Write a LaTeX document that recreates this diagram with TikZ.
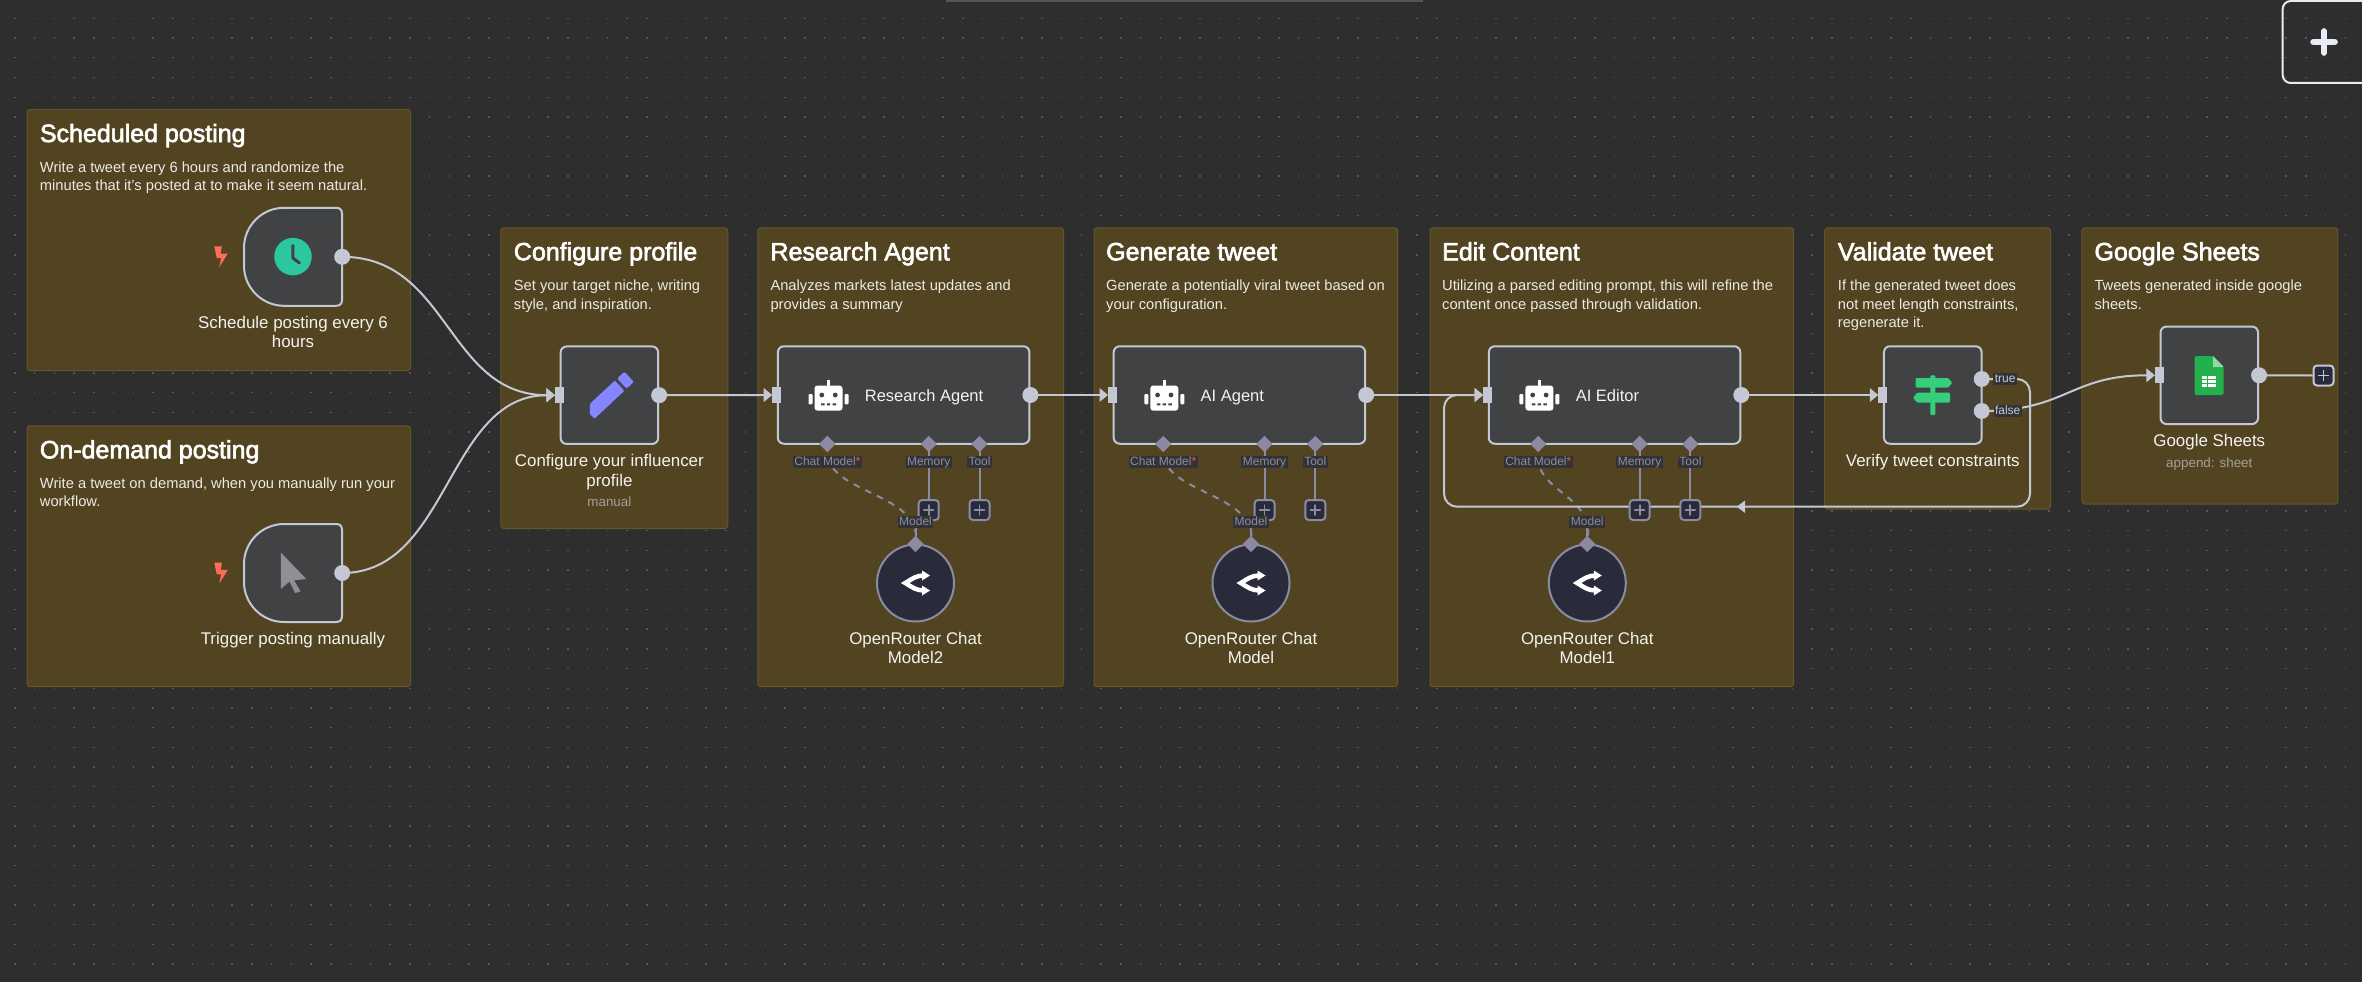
\documentclass[tikz,border=0pt]{standalone}
\usepackage{fontspec}
\setmainfont{Liberation Sans}
\newfontfamily\ttlfont[FakeBold=2.5]{Liberation Sans}
\usetikzlibrary{arrows.meta,shapes.geometric}
\definecolor{bgcol}{HTML}{2E2E2E}
\definecolor{dotcol}{HTML}{575757}
\definecolor{stickyfill}{HTML}{524421}
\definecolor{stickyline}{HTML}{65562A}
\definecolor{nodefill}{HTML}{414244}
\definecolor{wirecol}{HTML}{C4C8D4}
\definecolor{portcol}{HTML}{8A8BA3}
\definecolor{lblbg}{HTML}{333336}
\definecolor{subcol}{HTML}{A3A097}
\definecolor{txtcol}{HTML}{F3F3F1}
\definecolor{desccol}{HTML}{ECEAE4}
\definecolor{circfill}{HTML}{2A2B3A}
\definecolor{signgreen}{HTML}{35CF7C}
\definecolor{sheetgreen}{HTML}{23B14D}
\definecolor{boltcol}{HTML}{FF6D5A}
\definecolor{clockcol}{HTML}{2CC79F}
\definecolor{cursorcol}{HTML}{8F9094}
\definecolor{pencilcol}{HTML}{8585FF}
\definecolor{btncol}{HTML}{E8EAF5}
\definecolor{barcol}{HTML}{555555}
\pgfdeclarelayer{bg}
\pgfdeclarelayer{conn}
\pgfsetlayers{bg,conn,main}
\tikzset{
  stickybox/.style={draw=stickyline,line width=1pt,fill=stickyfill,rounded corners=3pt,inner sep=0pt,anchor=north west},
  stickytitle/.style={anchor=base west,inner sep=0pt,text=white,font=\ttlfont\fontsize{25}{30}\selectfont},
  stickytext/.style={anchor=base west,inner sep=0pt,text=desccol,font=\fontsize{14.7}{18}\selectfont},
  nodelabel/.style={anchor=base,inner sep=0pt,text=txtcol,font=\fontsize{16.9}{20}\selectfont},
  sublabel/.style={anchor=base,inner sep=0pt,text=subcol,font=\fontsize{13.4}{16}\selectfont},
  workbox/.style={draw=wirecol,line width=2pt,fill=nodefill,rounded corners=6pt,inner sep=0pt},
  inport/.style={fill=wirecol,inner sep=0pt,minimum width=9pt,minimum height=16pt},
  outport/.style={circle,fill=wirecol,inner sep=0pt,minimum size=16pt},
  wire/.style={draw=wirecol,line width=2pt,-{Triangle[length=8.5pt,width=13.5pt]}},
  plainwire/.style={draw=wirecol,line width=2pt},
  subwire/.style={draw=portcol,line width=2pt},
  dashwire/.style={draw=portcol,line width=2pt,dash pattern=on 6.5pt off 6.5pt},
  subdiamond/.style={diamond,fill=portcol,inner sep=0pt,minimum width=16.5pt,minimum height=16.5pt},
  addbox/.style={draw=portcol,line width=2pt,fill=circfill,rounded corners=3.5pt,inner sep=0pt,minimum size=20pt},
  addboxlight/.style={draw=wirecol,line width=2pt,fill=circfill,rounded corners=3.5pt,inner sep=0pt,minimum size=20pt},
  portlabel/.style={fill=lblbg,inner xsep=1.5pt,inner ysep=0pt,text=portcol,text height=9pt,text depth=3pt,font=\fontsize{12}{12}\selectfont},
  truelabel/.style={portlabel,text=wirecol},
  modelcircle/.style={circle,draw=portcol,line width=2pt,fill=circfill,inner sep=0pt,minimum size=77pt},
}
\newcommand{\plusmark}[2]{\draw[#2,line width=1.9pt,line cap=round] ([xshift=-4.8pt]#1.center) -- ([xshift=4.8pt]#1.center) ([yshift=-4.8pt]#1.center) -- ([yshift=4.8pt]#1.center);}
\newcommand{\stickyboard}[5]{%
  \pgfmathsetmacro\stw{#4-#2}\pgfmathsetmacro\sth{#5-#3}%
  \begin{pgfonlayer}{bg}
  \node[stickybox,minimum width=\stw pt,minimum height=\sth pt] (#1) at (#2,#3) {};
  \end{pgfonlayer}}
\newcommand{\stickyhead}[4]{\node[stickytitle] (#1) at (#2,#3) {#4};}
\newcommand{\stickyrow}[4]{\node[stickytext] (#1) at (#2,#3) {#4};}
\newcommand{\roboticon}[2]{%
  \begin{scope}[shift={(#1,#2)}]
    \fill[white] (-1.3,-15) rectangle (1.3,-8);
    \fill[white,rounded corners=3pt] (-14,-9.5) rectangle (14,15.7);
    \fill[white,rounded corners=1pt] (-20,-1) rectangle (-16,9.3);
    \fill[white,rounded corners=1pt] (16,-1) rectangle (20,9.3);
    \fill[nodefill] (-6.7,0) circle (2.4) (6.7,0) circle (2.4);
    \fill[nodefill] (-7.5,8.3) rectangle (-4,10.3) (-1.7,8.3) rectangle (1.7,10.3) (4,8.3) rectangle (7.5,10.3);
  \end{scope}}
\newcommand{\routericon}[2]{%
  \begin{scope}[shift={(#1,#2)}]
    \draw[white,line width=4.5pt] (8,-7.5) .. controls (1,-7.5) and (-4,-4) .. (-10,0) .. controls (-4,4) and (1,7.5) .. (8,7.5);
    \fill[white] (-14.5,0) -- (-9,-3) -- (-9,3) -- cycle;
    \fill[white] (14.5,-7.5) -- (6.5,-12.5) -- (6.5,-2.5) -- cycle;
    \fill[white] (14.5,7.5) -- (6.5,2.5) -- (6.5,12.5) -- cycle;
  \end{scope}}
\newcommand{\boltmark}[2]{\fill[boltcol,shift={(#1,#2)}] (-6.5,-10.2) -- (1,-10.2) -- (0,-3) -- (7,-3) -- (-1.5,10.5) -- (0.3,1.5) -- (-4,1.5) -- cycle;}
\newcommand{\triggerbox}[3]{%
  \node[inner sep=0pt,minimum size=98pt] (#1) at ({#2+49},{#3+49}) {};
  \draw[draw=wirecol,line width=2pt,fill=nodefill,shift={(#2,#3)}] (40,0) -- (92,0) .. controls (96,0) and (98,2) .. (98,6) -- (98,92) .. controls (98,96) and (96,98) .. (92,98) -- (40,98) .. controls (18,98) and (0,80) .. (0,58) -- (0,40) .. controls (0,18) and (18,0) .. (40,0) -- cycle;
  \node[outport] (#1out) at (#1.east) {};}
% #1 prefix, #2 left x, #3 model x, #4 agent text, #5 first label line, #6 second label line
\newcommand{\agentgroup}[6]{%
  \pgfmathsetmacro\agc{#2+125.75}%
  \node[workbox,minimum width=251.5pt,minimum height=97.5pt] (#1node) at (\agc,395) {};
  \node[inport] (#1in) at (#1node.west) {};
  \node[outport] (#1out) at (#1node.east) {};
  \roboticon{#2+50.6}{395}
  \node[anchor=base west,inner sep=0pt,text=txtcol,font=\fontsize{16.5}{20}\selectfont] (#1text) at ({#2+86.8},401) {#4};
  \node[modelcircle] (#1circle) at (#3,583) {};
  \routericon{#3}{583}
  \begin{pgfonlayer}{conn}
    \coordinate (#1chatc) at ({#2+49.5},444);
    \coordinate (#1memc) at ({#2+150.8},444);
    \coordinate (#1toolc) at ({#2+201.6},444);
    \coordinate (#1modelc) at (#3,544);
    \draw[subwire] (#1memc) -- ({#2+150.8},510);
    \draw[subwire] (#1toolc) -- ({#2+201.6},510);
    \draw[dashwire] (#1chatc) .. controls +(-10.5,51) and +(9.5,-54) .. (#1modelc);
    \draw[subwire] (#3,528) -- (#1modelc);
  \end{pgfonlayer}
  \node[subdiamond] (#1chat) at (#1chatc) {};
  \node[subdiamond] (#1mem) at (#1memc) {};
  \node[subdiamond] (#1tool) at (#1toolc) {};
  \node[subdiamond] (#1model) at (#1modelc) {};
  \node[addbox] (#1memadd) at ({#2+150.8},510) {};
  \node[addbox] (#1tooladd) at ({#2+201.6},510) {};
  \plusmark{#1memadd}{portcol}
  \plusmark{#1tooladd}{portcol}
  \node[portlabel] (#1chatlbl) at ({#2+49.5},462) {Chat Model\textcolor{red!70!white}{*}};
  \node[portlabel] (#1memlbl) at ({#2+150.8},462) {Memory};
  \node[portlabel] (#1toollbl) at ({#2+201.6},462) {Tool};
  \node[portlabel] (#1modellbl) at (#3,522) {Model};
  \node[nodelabel] (#1lab) at (#3,644) {#5};
  \node[nodelabel] (#1labb) at (#3,663) {#6};}
\begin{document}
\begin{tikzpicture}[x=1pt,y=-1pt]
\useasboundingbox (0,0) rectangle (2362,982);
\begin{pgfonlayer}{bg}
  \fill[bgcol] (0,0) rectangle (2362,982);
  \foreach \i in {0,...,119}{\foreach \j in {0,...,49}{%
    \fill[dotcol] ({14.15+19.75*\i},{17.7+19.7*\j}) rectangle +(1.4,1.4);}}
  \fill[barcol] (946,0) rectangle (1423,2);
\end{pgfonlayer}

% sticky notes
\stickyboard{noteA}{26.5}{109}{410}{370}
\stickyboard{noteB}{26.5}{425.3}{410}{686.2}
\stickyboard{noteC}{500.3}{227.3}{727.3}{528}
\stickyboard{noteD}{757.3}{227.3}{1063}{686.2}
\stickyboard{noteE}{1093.5}{227.3}{1397.2}{686.2}
\stickyboard{noteF}{1429.5}{227.3}{1793.2}{686.2}
\stickyboard{noteG}{1824.2}{227.3}{2050}{508.5}
\stickyboard{noteH}{2081.4}{227.3}{2337.3}{503.5}

\stickyhead{ta}{39.7}{142}{Scheduled posting}
\stickyrow{ta1}{39.7}{172}{Write a tweet every 6 hours and randomize the}
\stickyrow{ta2}{39.7}{190.4}{minutes that it’s posted at to make it seem natural.}
\stickyhead{tb}{39.7}{458.3}{On-demand posting}
\stickyrow{tb1}{39.7}{488.3}{Write a tweet on demand, when you manually run your}
\stickyrow{tb2}{39.7}{506.7}{workflow.}
\stickyhead{tc}{513.7}{260.3}{Configure profile}
\stickyrow{tc1}{513.7}{290.7}{Set your target niche, writing}
\stickyrow{tc2}{513.7}{309.3}{style, and inspiration.}
\stickyhead{td}{770.3}{260.3}{Research Agent}
\stickyrow{td1}{770.3}{290.7}{Analyzes markets latest updates and}
\stickyrow{td2}{770.3}{309.3}{provides a summary}
\stickyhead{te}{1106}{260.3}{Generate tweet}
\stickyrow{te1}{1106}{290.7}{Generate a potentially viral tweet based on}
\stickyrow{te2}{1106}{309.3}{your configuration.}
\stickyhead{tf}{1442}{260.3}{Edit Content}
\stickyrow{tf1}{1442}{290.7}{Utilizing a parsed editing prompt, this will refine the}
\stickyrow{tf2}{1442}{309.3}{content once passed through validation.}
\stickyhead{tg}{1837.7}{260.3}{Validate tweet}
\stickyrow{tg1}{1837.7}{290.7}{If the generated tweet does}
\stickyrow{tg2}{1837.7}{309.3}{not meet length constraints,}
\stickyrow{tg3}{1837.7}{327.6}{regenerate it.}
\stickyhead{th}{2094.3}{260.3}{Google Sheets}
\stickyrow{th1}{2094.3}{290.7}{Tweets generated inside google}
\stickyrow{th2}{2094.3}{309.3}{sheets.}

% triggers
\triggerbox{sched}{244}{207.8}
\boltmark{220.8}{256.6}
\node[circle,fill=clockcol,inner sep=0pt,minimum size=37.5pt] (clockface) at (293,256.6) {};
\draw[nodefill,line width=3pt,line cap=round,line join=round] (292.8,245.5) -- (292.8,258) -- (299.5,263);
\node[nodelabel] (schedlab) at (293,328.4) {Schedule posting every 6};
\node[nodelabel] (schedlabb) at (293,347.4) {hours};

\triggerbox{manu}{244}{524}
\boltmark{220.8}{572.9}
\fill[cursorcol,line join=round] (280.9,552.6) -- (306.2,579) -- (294,580.3) -- (300.5,591.4) -- (295.2,593) -- (289.5,581.5) -- (280.9,589) -- cycle;
\node[nodelabel] (manulab) at (293,644.4) {Trigger posting manually};

% profile node
\node[workbox,minimum width=97.5pt,minimum height=97.5pt] (cfg) at (609.4,395.2) {};
\node[inport] (cfgin) at (cfg.west) {};
\node[outport] (cfgout) at (cfg.east) {};
\begin{scope}[shift={(609.4,395.2)},rotate=43]
  \fill[pencilcol,rounded corners=1pt] (-27,0) -- (-27,7) -- (-20,7) -- (14,7) -- (14,-7) -- (-20,-7) -- cycle;
  \fill[pencilcol,rounded corners=2pt] (17,-7) rectangle (27,7);
\end{scope}
\node[nodelabel] (cfglab) at (609.4,466.4) {Configure your influencer};
\node[nodelabel] (cfglabb) at (609.4,486) {profile};
\node[sublabel] (cfgsub) at (609.4,506) {manual};

% agents
\agentgroup{res}{777.9}{915.5}{Research Agent}{OpenRouter Chat}{Model2}
\agentgroup{gen}{1113.7}{1251}{AI Agent}{OpenRouter Chat}{Model}
\agentgroup{edi}{1488.8}{1587.3}{AI Editor}{OpenRouter Chat}{Model1}

% validation
\node[workbox,minimum width=97.7pt,minimum height=97.5pt] (ver) at (1932.8,395) {};
\node[inport] (verin) at (ver.west) {};
\node[outport] (vertrue) at (1981.7,379) {};
\node[outport] (verfalse) at (1981.7,411) {};
\fill[signgreen,rounded corners=1pt] (1930.3,375.3) rectangle (1935.3,380);
\fill[signgreen,rounded corners=1pt] (1930.3,386) rectangle (1935.3,394);
\fill[signgreen,rounded corners=1pt] (1930.3,402) rectangle (1935.3,415);
\fill[signgreen,rounded corners=1pt] (1915.7,378) -- (1948,378) -- (1952.3,382.8) -- (1948,387.7) -- (1915.7,387.7) -- cycle;
\fill[signgreen,rounded corners=1pt] (1917.3,392.7) -- (1950,392.7) -- (1950,402.7) -- (1917.3,402.7) -- (1913,397.7) -- cycle;
\node[nodelabel] (verlab) at (1932.8,466) {Verify tweet constraints};
\node[truelabel] (truelbl) at (2005.2,379) {true};
\node[truelabel] (falselbl) at (2007.7,411) {false};

% sheets
\node[workbox,minimum width=97.5pt,minimum height=97.5pt] (sheet) at (2209.3,375.3) {};
\node[inport] (sheetin) at (sheet.west) {};
\node[outport] (sheetout) at (sheet.east) {};
\node[addboxlight] (sheetadd) at (2323.5,375.5) {};
\plusmark{sheetadd}{wirecol}
\fill[sheetgreen,rounded corners=1.5pt] (2194.6,356) -- (2213,356) -- (2223.7,367) -- (2223.7,395) -- (2194.6,395) -- cycle;
\fill[sheetgreen!50!white] (2213,356) -- (2223.7,367) -- (2213,367) -- cycle;
\fill[white] (2202,376) rectangle (2215.8,386.7);
\draw[sheetgreen,line width=1pt] (2202,379.6) -- (2215.8,379.6) (2202,383.2) -- (2215.8,383.2) (2207.5,376) -- (2207.5,386.7);
\node[nodelabel] (sheetlab) at (2209.3,446) {Google Sheets};
\node[sublabel] (sheetsub) at (2209.3,467.3) {append: sheet};

% connectors
\begin{pgfonlayer}{conn}
  \draw[wire] (schedout.center) .. controls +(107,0) and +(-108,0) .. (cfgin.west);
  \draw[wire] (manuout.center) .. controls +(107,0) and +(-108,0) .. (cfgin.west);
  \draw[wire] (cfgout.center) -- (resin.west);
  \draw[wire] (resout.center) -- (genin.west);
  \draw[wire] (genout.center) -- (ediin.west);
  \draw[wire] (ediout.center) -- (verin.west);
  \draw[wire] (verfalse.center) .. controls +(85,0) and +(-85,0) .. (sheetin.west);
  \draw[plainwire] (sheetout.center) -- (sheetadd.west);
  \draw[wire,rounded corners=13pt] (vertrue.center) -- (2030,379) -- (2030,506.7) -- (1444,506.7) -- (1444,395) -- (ediin.west);
  \coordinate (backtip) at (1736.7,506.7);
  \fill[wirecol] (backtip) -- +(8.3,-6.2) -- +(8.3,6.2) -- cycle;
\end{pgfonlayer}

% canvas button
\draw[draw=btncol,line width=2pt,rounded corners=8pt] (2282.7,1) rectangle (2385,83);
\coordinate (btnc) at (2324,42);
\draw[btncol,line width=6.5pt,line cap=round] ([xshift=-10.6pt]btnc) -- ([xshift=10.6pt]btnc) ([yshift=-10.6pt]btnc) -- ([yshift=10.6pt]btnc);
\end{tikzpicture}
\end{document}
